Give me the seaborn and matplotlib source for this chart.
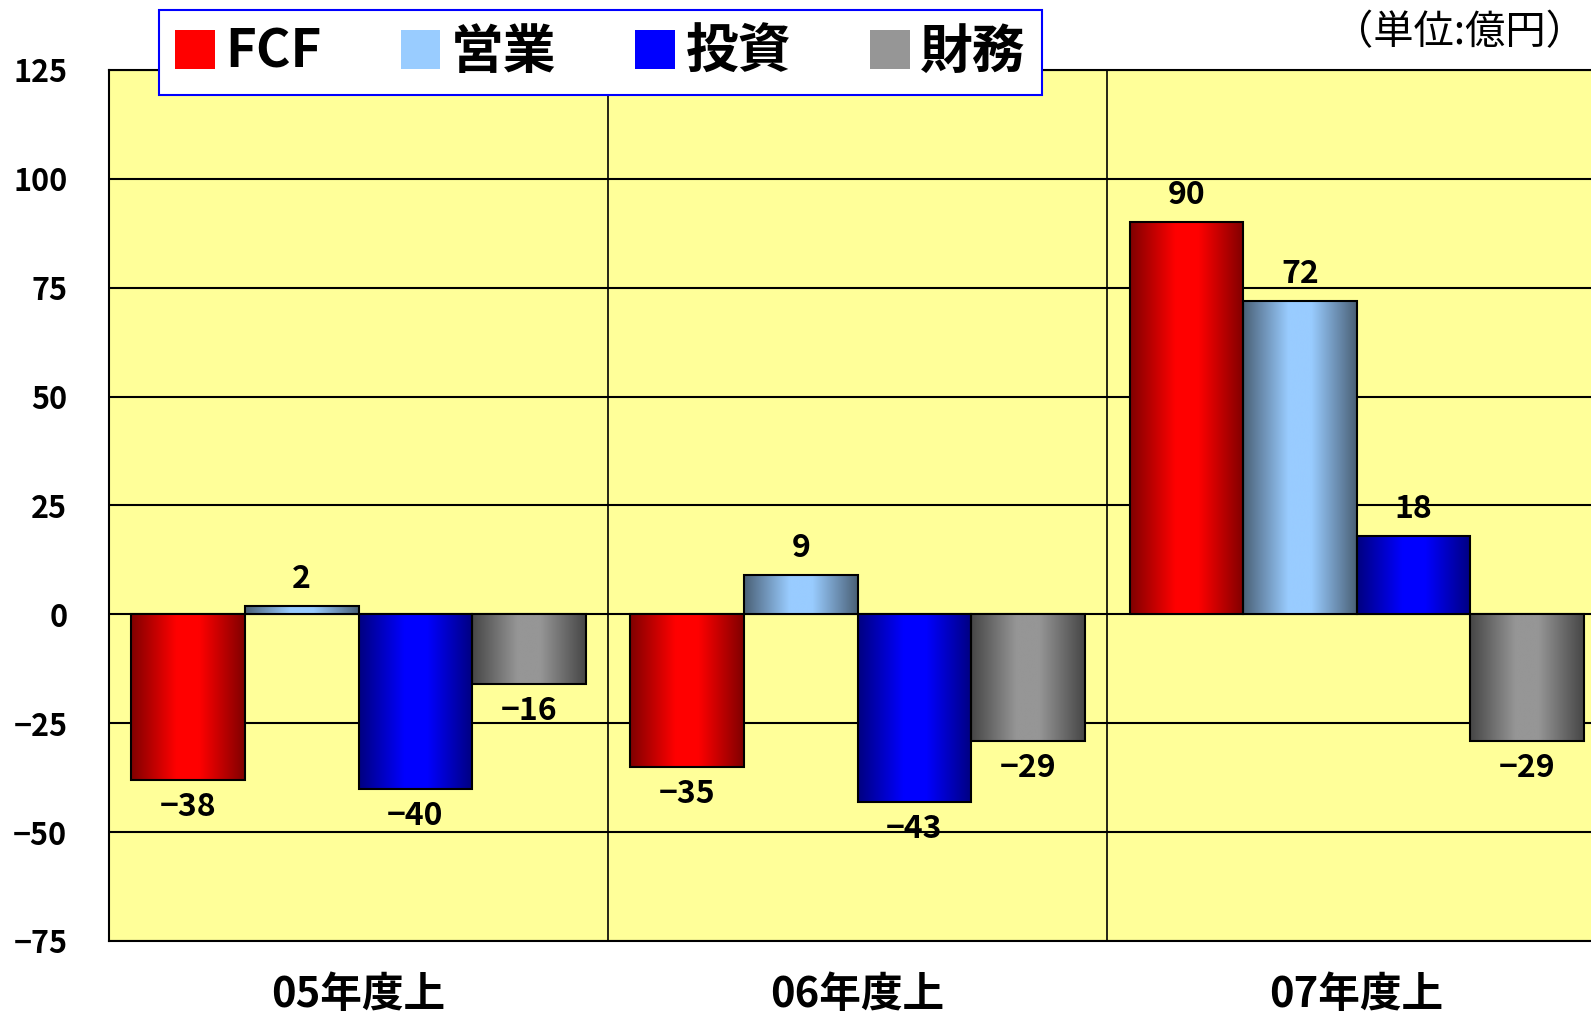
import matplotlib
matplotlib.use("Agg")
import matplotlib.pyplot as plt
import matplotlib.colors as mcolors
from matplotlib.patches import Patch
import seaborn as sns
import numpy as np
import pandas as pd

periods = ["05年度上", "06年度上", "07年度上"]
series = ["FCF", "営業", "投資", "財務"]
fcf = [-38, -35, 90]
eigyo = [2, 9, 72]
toushi = [-40, -43, 18]
zaimu = [-16, -29, -29]

colors = ["#FF0000", "#99CCFF", "#0000FF", "#969696"]
dark = ["#800000", "#4A6076", "#000080", "#464646"]

df = pd.DataFrame({
    "period": periods * 4,
    "series": [s for s in series for _ in periods],
    "value": fcf + eigyo + toushi + zaimu,
})

sns.set_theme(style="white")
plt.rcParams["font.family"] = ["Noto Sans CJK JP", "DejaVu Sans"]
plt.rcParams.update({"text.color": "black", "xtick.color": "black",
                     "ytick.color": "black", "axes.labelcolor": "black"})

fig = plt.figure(figsize=(15.91, 10.14), dpi=100)
ax = fig.add_axes([0.0685, 0.072, 0.941, 0.859])
ax.set_facecolor("#FFFF99")

sns.barplot(data=df, x="period", y="value", hue="series", palette=colors,
            width=0.91, ax=ax, legend=False, saturation=1)

for y in range(-75, 126, 25):
    ax.axhline(y, color="black", lw=1.5, zorder=0.5)
for x in [0.5, 1.5]:
    ax.axvline(x, color="black", lw=1.2, zorder=0.5)

# gradient fill for each bar
grad = np.linspace(0, 1, 256).reshape(1, -1)
for i, cont in enumerate(ax.containers):
    cmap = mcolors.LinearSegmentedColormap.from_list(
        "g", [(0, dark[i]), (0.4, colors[i]), (0.6, colors[i]), (1, dark[i])])
    for bar in cont:
        x0, w = bar.get_x(), bar.get_width()
        y0, h = bar.get_y(), bar.get_height()
        bar.set_edgecolor("black")
        bar.set_linewidth(1.5)
        bar.set_zorder(3)
        im = ax.imshow(grad, cmap=cmap, aspect="auto", zorder=2.5,
                       extent=[x0, x0 + w, min(y0, y0 + h), max(y0, y0 + h)],
                       interpolation="bicubic")
        im.set_clip_path(bar)
        bar.set_facecolor("none")
        if h >= 0:
            ax.annotate(f"{int(round(h))}", (x0 + w / 2, y0 + h), xytext=(0, 8),
                        textcoords="offset points", ha="center", va="bottom",
                        fontsize=23, fontweight="bold", zorder=5)
        else:
            ax.annotate(f"−{int(round(-h))}", (x0 + w / 2, y0 + h), xytext=(0, -8),
                        textcoords="offset points", ha="center", va="top",
                        fontsize=23, fontweight="bold", zorder=5)

ax.set_xlim(-0.5, 2.5)
ax.set_ylim(-75, 125)
ax.set_yticks(range(-75, 126, 25))
ax.set_xlabel("")
ax.set_ylabel("")
ax.set_yticklabels([str(t).replace("-", "−") for t in range(-75, 126, 25)])
ax.tick_params(axis="y", length=0, pad=30, labelsize=22)
ax.tick_params(axis="x", length=0, pad=24, labelsize=30)
for lbl in ax.get_yticklabels() + ax.get_xticklabels():
    lbl.set_fontweight("bold")
for s in ["left", "bottom", "top"]:
    ax.spines[s].set_color("black")
    ax.spines[s].set_linewidth(1.5)
ax.spines["right"].set_visible(False)

handles = [Patch(facecolor=c, edgecolor="none") for c in colors]
leg = fig.legend(handles, series, loc="upper left", bbox_to_anchor=(0.1, 0.99),
                 ncol=4, fontsize=38, frameon=True, fancybox=False, framealpha=1,
                 handlelength=0.75, handleheight=0.75, handletextpad=0.2,
                 columnspacing=1.5, borderpad=0.3, borderaxespad=0)
leg.get_frame().set_edgecolor("#0000FF")
leg.get_frame().set_linewidth(1.5)
for t in leg.get_texts():
    t.set_fontweight("bold")

fig.text(0.997, 0.968, "（単位:億円）", ha="right", va="center", fontsize=29)

fig.savefig("out.png", dpi=100, facecolor="white")
